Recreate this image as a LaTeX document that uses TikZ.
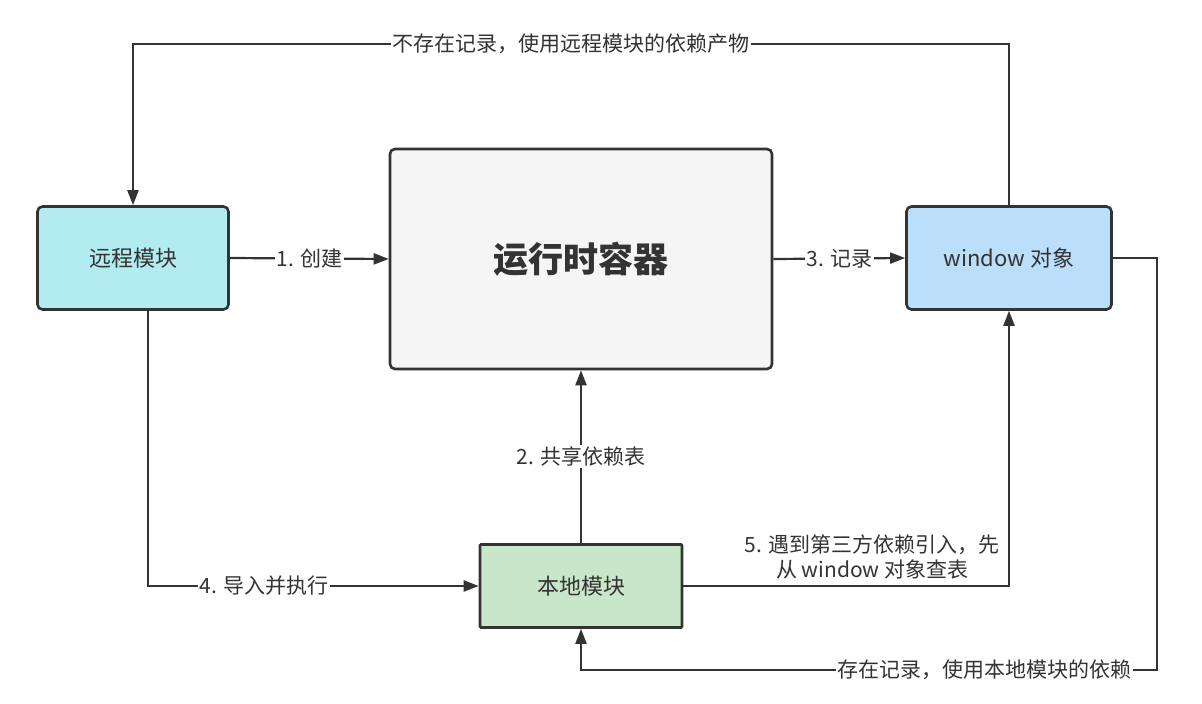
\documentclass[tikz,border=0pt]{standalone}
\usepackage{fontspec}
\setmainfont{Noto Sans CJK SC}
\usetikzlibrary{calc, arrows.meta}
\definecolor{inkgray}{HTML}{333333}
\definecolor{remotefill}{HTML}{B2EBF0}
\definecolor{windowfill}{HTML}{BBDEFB}
\definecolor{localfill}{HTML}{C8E6C9}
\definecolor{runfill}{HTML}{F5F5F5}
\tikzset{
    modbox/.style={draw=inkgray, line width=2.6pt, rounded corners=5pt, text=inkgray, font=\fontsize{22}{26}\selectfont},
    link/.style={draw=inkgray, line width=2.2pt, -{Triangle[length=15pt,width=11pt]}},
    linklabel/.style={fill=white, text=inkgray, inner sep=1.5pt, font=\fontsize{21}{25}\selectfont}
}

\begin{document}
\begin{tikzpicture}[x=1pt,y=-1pt]
            \useasboundingbox (0,0) rectangle (1202,704);
            \node[modbox,fill=remotefill,minimum width=191pt,minimum height=103pt] (remote) at (133,258) {远程模块};
            \node[modbox,fill=runfill,minimum width=382pt,minimum height=220pt,font=\fontsize{35}{40}\selectfont\bfseries] (runtime) at (581,259) {运行时容器};
            \node[modbox,fill=windowfill,minimum width=205pt,minimum height=103pt] (win) at (1009,258) {window 对象};
            \node[modbox,fill=localfill,rounded corners=1pt,minimum width=202pt,minimum height=83pt] (local) at (581,586) {本地模块};
            \coordinate (topR) at (1009,44);
            \coordinate (topL) at (133,44);
            \coordinate (lowL) at (148,586);
            \coordinate (farR) at (1157,258);
            \coordinate (farRB) at (1157,670);
            \coordinate (lowM) at (581,670);
            \draw[link] (win.north) -- (topR) -- node[linklabel]{不存在记录，使用远程模块的依赖产物} (topL) -- (remote.north);
            \draw[link] (remote.east) -- node[linklabel]{1. 创建} (runtime.west);
            \draw[link] (runtime.east) -- node[linklabel]{3. 记录} (win.west);
            \draw[link] (local.north) -- node[linklabel]{2. 共享依赖表} (runtime.south);
            \draw[link] ([xshift=15pt]remote.south) -- (lowL) -- node[pos=0.35,linklabel]{4. 导入并执行} (local.west);
            \draw[link] (local.east) -| node[pos=0.29,above=4pt,linklabel,fill=none,align=center]{5. 遇到第三方依赖引入，先\\从 window 对象查表} (win.south);
            \draw[link] (win.east) -- (farR) -- (farRB) -- node[pos=0.3,linklabel]{存在记录，使用本地模块的依赖} (lowM) -- (local.south);
        \end{tikzpicture}
\end{document}
